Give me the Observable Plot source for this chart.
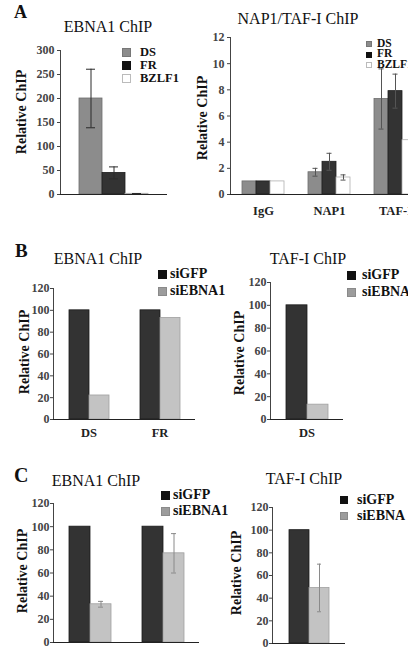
<!DOCTYPE html>
<html>
<head>
<meta charset="utf-8">
<script src="https://cdn.jsdelivr.net/npm/d3@7"></script>
<script src="https://cdn.jsdelivr.net/npm/@observablehq/plot@0.6"></script>
<style>
  body { margin: 0; background: #fff; }
  #fig { position: relative; width: 408px; height: 649px; overflow: hidden; background: #fff;
         font-family: "Liberation Serif", "DejaVu Serif", serif; color: #111; }
  #fig svg { position: absolute; overflow: visible; }
  .t { position: absolute; white-space: nowrap; line-height: 1; }
  .sw { position: absolute; box-sizing: border-box; }
  #fig g[aria-label="fx-axis tick label"] { font-size: 12.5px; fill: #222; }
</style>
</head>
<body>
<div id="fig"></div>
<script>
// ---- Panel A, EBNA1 ChIP: one bar per region ----
const seriesA = ["DS", "FR", "BZLF1"];
const ebna1A = [200, 45, 1.5];
const ebna1AErr = [61, 12.5, 0.5];

// ---- Panel A, NAP1/TAF-I ChIP: antibodies x regions ----
const antibodies = ["IgG", "NAP1", "TAF-I"];
const napDS = [1, 1.7, 7.3];
const napDSErr = [0, 0.3, 2.3];
const napFR = [1, 2.5, 7.9];
const napFRErr = [0, 0.65, 1.3];
const napBZLF1 = [1, 1.3, 4.15];
const napBZLF1Err = [0, 0.2, 0];

// ---- Panels B and C: siRNA knockdown ----
const knockdown = ["siGFP", "siEBNA1"];
const regionsEbna1 = ["DS", "FR"];
const regionsTaf = ["DS"];
const ebna1B_siGFP = [100, 100];
const ebna1B_siEBNA1 = [22, 93];
const tafB_siGFP = [100];
const tafB_siEBNA1 = [13];
const ebna1C_siGFP = [100, 100];
const ebna1C_siEBNA1 = [33, 77];
const ebna1C_siEBNA1Err = [2.5, 17];
const tafC_siGFP = [100];
const tafC_siEBNA1 = [49];
const tafC_siEBNA1Err = [21];

const ticksA1 = [0, 50, 100, 150, 200, 250, 300];
const ticksA2 = [0, 2, 4, 6, 8, 10, 12];
const ticksBC = [0, 20, 40, 60, 80, 100, 120];

// bar styling per series
const fillOf = {DS: "#8c8c8c", FR: "#333333", BZLF1: "#ffffff", siGFP: "#333333", siEBNA1: "#c3c3c3"};
const strokeOf = {DS: "#6e6e6e", FR: "#1e1e1e", BZLF1: "#b0b0b0", siGFP: "#1a1a1a", siEBNA1: "#a0a0a0"};

const fig = document.getElementById("fig");

function rowsFrom(groups, seriesNames, valueArrays, errArrays) {
  const rows = [];
  groups.forEach((g, gi) => {
    seriesNames.forEach((s, si) => {
      rows.push({group: g, series: s, value: valueArrays[si][gi], err: errArrays[si] ? errArrays[si][gi] : 0});
    });
  });
  return rows;
}

function panel(cfg) {
  const {rows, series, groups, yDomain, yTicks, left, top, width, height, margin,
         paddingOuter, errColor, capInset, tickSize, tickPadding, fxPadding, groupLabels = true} = cfg;
  const errOpts = {filter: d => d.err > 0, x: "series", stroke: errColor, strokeWidth: 1};
  const options = {
    width, height,
    marginTop: margin[0], marginRight: margin[1], marginBottom: margin[2], marginLeft: margin[3],
    style: {background: "transparent", overflow: "visible", fontFamily: '"Liberation Serif", "DejaVu Serif", serif',
            fontSize: "12px", fontWeight: "bold", color: "#444"},
    x: {domain: series, paddingInner: 0, paddingOuter, axis: null},
    y: {domain: yDomain, ticks: yTicks, tickSize, tickPadding, line: true, label: null},
    color: {type: "identity"},
    marks: [
      Plot.barY(rows, {x: "series", y: "value", fill: d => fillOf[d.series], stroke: d => strokeOf[d.series], strokeWidth: 0.8}),
      Plot.ruleX(rows, {...errOpts, y1: d => d.value - d.err, y2: d => d.value + d.err}),
      Plot.tickY(rows, {...errOpts, y: d => d.value + d.err, insetLeft: capInset, insetRight: capInset}),
      Plot.tickY(rows, {...errOpts, y: d => d.value - d.err, insetLeft: capInset, insetRight: capInset}),
      Plot.ruleY([0], {stroke: "#222", strokeWidth: 1.2})
    ]
  };
  if (groups) {
    options.facet = {data: rows, x: "group"};
    options.fx = groupLabels
      ? {domain: groups, padding: 0, axis: "bottom", label: null, tickSize: 0, tickPadding: fxPadding}
      : {domain: groups, padding: 0, axis: null};
  }
  const svg = Plot.plot(options);
  svg.style.left = left + "px";
  svg.style.top = top + "px";
  fig.appendChild(svg);
}

function label(str, {x, y, size, weight = "normal", anchor = "middle", rotate = false}) {
  const el = document.createElement("div");
  el.className = "t";
  el.textContent = str;
  el.style.fontSize = size + "px";
  el.style.fontWeight = weight;
  if (rotate) {
    el.style.left = x + "px";
    el.style.top = y + "px";
    el.style.transform = "translate(-50%, -50%) rotate(-90deg)";
  } else {
    el.style.left = x + "px";
    el.style.top = (y - 0.89 * size) + "px";
    if (anchor === "middle") el.style.transform = "translateX(-50%)";
  }
  fig.appendChild(el);
}

function legend({x, y, rows, box, gap, textX, size}) {
  rows.forEach(([name, fill, border], i) => {
    const cy = y + i * gap;
    const sq = document.createElement("div");
    sq.className = "sw";
    Object.assign(sq.style, {left: x + "px", top: (cy - box / 2) + "px", width: box + "px", height: box + "px",
                             background: fill, border: "1px solid " + border});
    fig.appendChild(sq);
    label(name, {x: textX, y: cy + size * 0.36, size, weight: "bold", anchor: "start"});
  });
}

// ---------- Panel A ----------
panel({
  rows: rowsFrom(["EBNA1"], seriesA, ebna1A.map(v => [v]), ebna1AErr.map(v => [v])),
  series: seriesA, yDomain: [0, 300], yTicks: ticksA1,
  left: 0, top: 0, width: 200, height: 230, margin: [50, 33, 36, 60],
  paddingOuter: 0.826, errColor: "#2a2a2a", capInset: 7, tickSize: 3, tickPadding: 3
});
panel({
  rows: rowsFrom(antibodies, seriesA, [napDS, napFR, napBZLF1], [napDSErr, napFRErr, napBZLF1Err]),
  series: seriesA, groups: antibodies, yDomain: [0, 12], yTicks: ticksA2,
  left: 200, top: 0, width: 228, height: 230, margin: [37, 0, 36, 30],
  paddingOuter: 0.75, errColor: "#555", capInset: 4.5, tickSize: 3, tickPadding: 3, fxPadding: 12
});

// ---------- Panel B ----------
panel({
  rows: rowsFrom(regionsEbna1, knockdown, [ebna1B_siGFP, ebna1B_siEBNA1], []),
  series: knockdown, groups: regionsEbna1, yDomain: [0, 120], yTicks: ticksBC,
  left: 0, top: 230, width: 200, height: 215, margin: [58, 5, 26, 53],
  paddingOuter: 0.775, errColor: "#888", capInset: 7, tickSize: 3, tickPadding: 1, fxPadding: 9
});
panel({
  rows: rowsFrom(regionsTaf, knockdown, [tafB_siGFP, tafB_siEBNA1], []),
  series: knockdown, groups: regionsTaf, yDomain: [0, 120], yTicks: ticksBC,
  left: 200, top: 230, width: 150, height: 215, margin: [52, 7, 26, 70],
  paddingOuter: 0.738, errColor: "#888", capInset: 7, tickSize: 3, tickPadding: 1, fxPadding: 9
});

// ---------- Panel C (region labels fall below the figure edge) ----------
panel({
  rows: rowsFrom(regionsEbna1, knockdown, [ebna1C_siGFP, ebna1C_siEBNA1], [null, ebna1C_siEBNA1Err]),
  series: knockdown, groups: regionsEbna1, yDomain: [0, 120], yTicks: ticksBC,
  left: 0, top: 430, width: 200, height: 230, margin: [73, 1, 18, 53],
  paddingOuter: 0.738, errColor: "#8a8a8a", capInset: 8, tickSize: 3, tickPadding: 1, groupLabels: false
});
panel({
  rows: rowsFrom(regionsTaf, knockdown, [tafC_siGFP, tafC_siEBNA1], [null, tafC_siEBNA1Err]),
  series: knockdown, groups: regionsTaf, yDomain: [0, 120], yTicks: ticksBC,
  left: 200, top: 430, width: 150, height: 230, margin: [77, 5, 17, 72],
  paddingOuter: 0.78, errColor: "#8a8a8a", capInset: 8, tickSize: 3, tickPadding: 1, groupLabels: false
});

// ---------- Panel letters, titles, axis labels ----------
label("A", {x: 14, y: 19, size: 18, weight: "bold", anchor: "start"});
label("B", {x: 15, y: 258, size: 19, weight: "bold", anchor: "start"});
label("C", {x: 14, y: 483, size: 20, weight: "bold", anchor: "start"});

label("EBNA1 ChIP", {x: 108, y: 33, size: 16});
label("NAP1/TAF-I ChIP", {x: 298, y: 25, size: 16});
label("EBNA1 ChIP", {x: 98, y: 265, size: 16});
label("TAF-I ChIP", {x: 308, y: 265, size: 16});
label("EBNA1 ChIP", {x: 96, y: 487, size: 16});
label("TAF-I ChIP", {x: 304, y: 485, size: 16});

const yTitle = "Relative ChIP";
label(yTitle, {x: 22, y: 112, size: 14, weight: "bold", rotate: true});
label(yTitle, {x: 203, y: 118, size: 14, weight: "bold", rotate: true});
label(yTitle, {x: 25, y: 352, size: 14, weight: "bold", rotate: true});
label(yTitle, {x: 240, y: 353, size: 14, weight: "bold", rotate: true});
label(yTitle, {x: 22.5, y: 571, size: 14, weight: "bold", rotate: true});
label(yTitle, {x: 237, y: 573, size: 14, weight: "bold", rotate: true});

// ---------- Legends ----------
const legendA = [["DS", "#8c8c8c", "#777"], ["FR", "#111", "#111"], ["BZLF1", "#fff", "#bbb"]];
legend({x: 122, y: 52.5, rows: legendA, box: 9, gap: 13, textX: 140, size: 12.5});
legend({x: 366, y: 44, rows: legendA, box: 6, gap: 10.5, textX: 377, size: 11.5});
const legendKd = [["siGFP", "#111", "#111"], ["siEBNA1", "#9c9c9c", "#8a8a8a"]];
legend({x: 158, y: 274, rows: legendKd, box: 9, gap: 17, textX: 170, size: 14});
legend({x: 347, y: 275, rows: legendKd, box: 9, gap: 17, textX: 362, size: 14});
legend({x: 161, y: 495, rows: legendKd, box: 9, gap: 16, textX: 173, size: 14});
legend({x: 340, y: 500, rows: [["siGFP", "#111", "#111"], ["siEBNA", "#9c9c9c", "#8a8a8a"]], box: 8, gap: 16, textX: 357, size: 14});
</script>
</body>
</html>
